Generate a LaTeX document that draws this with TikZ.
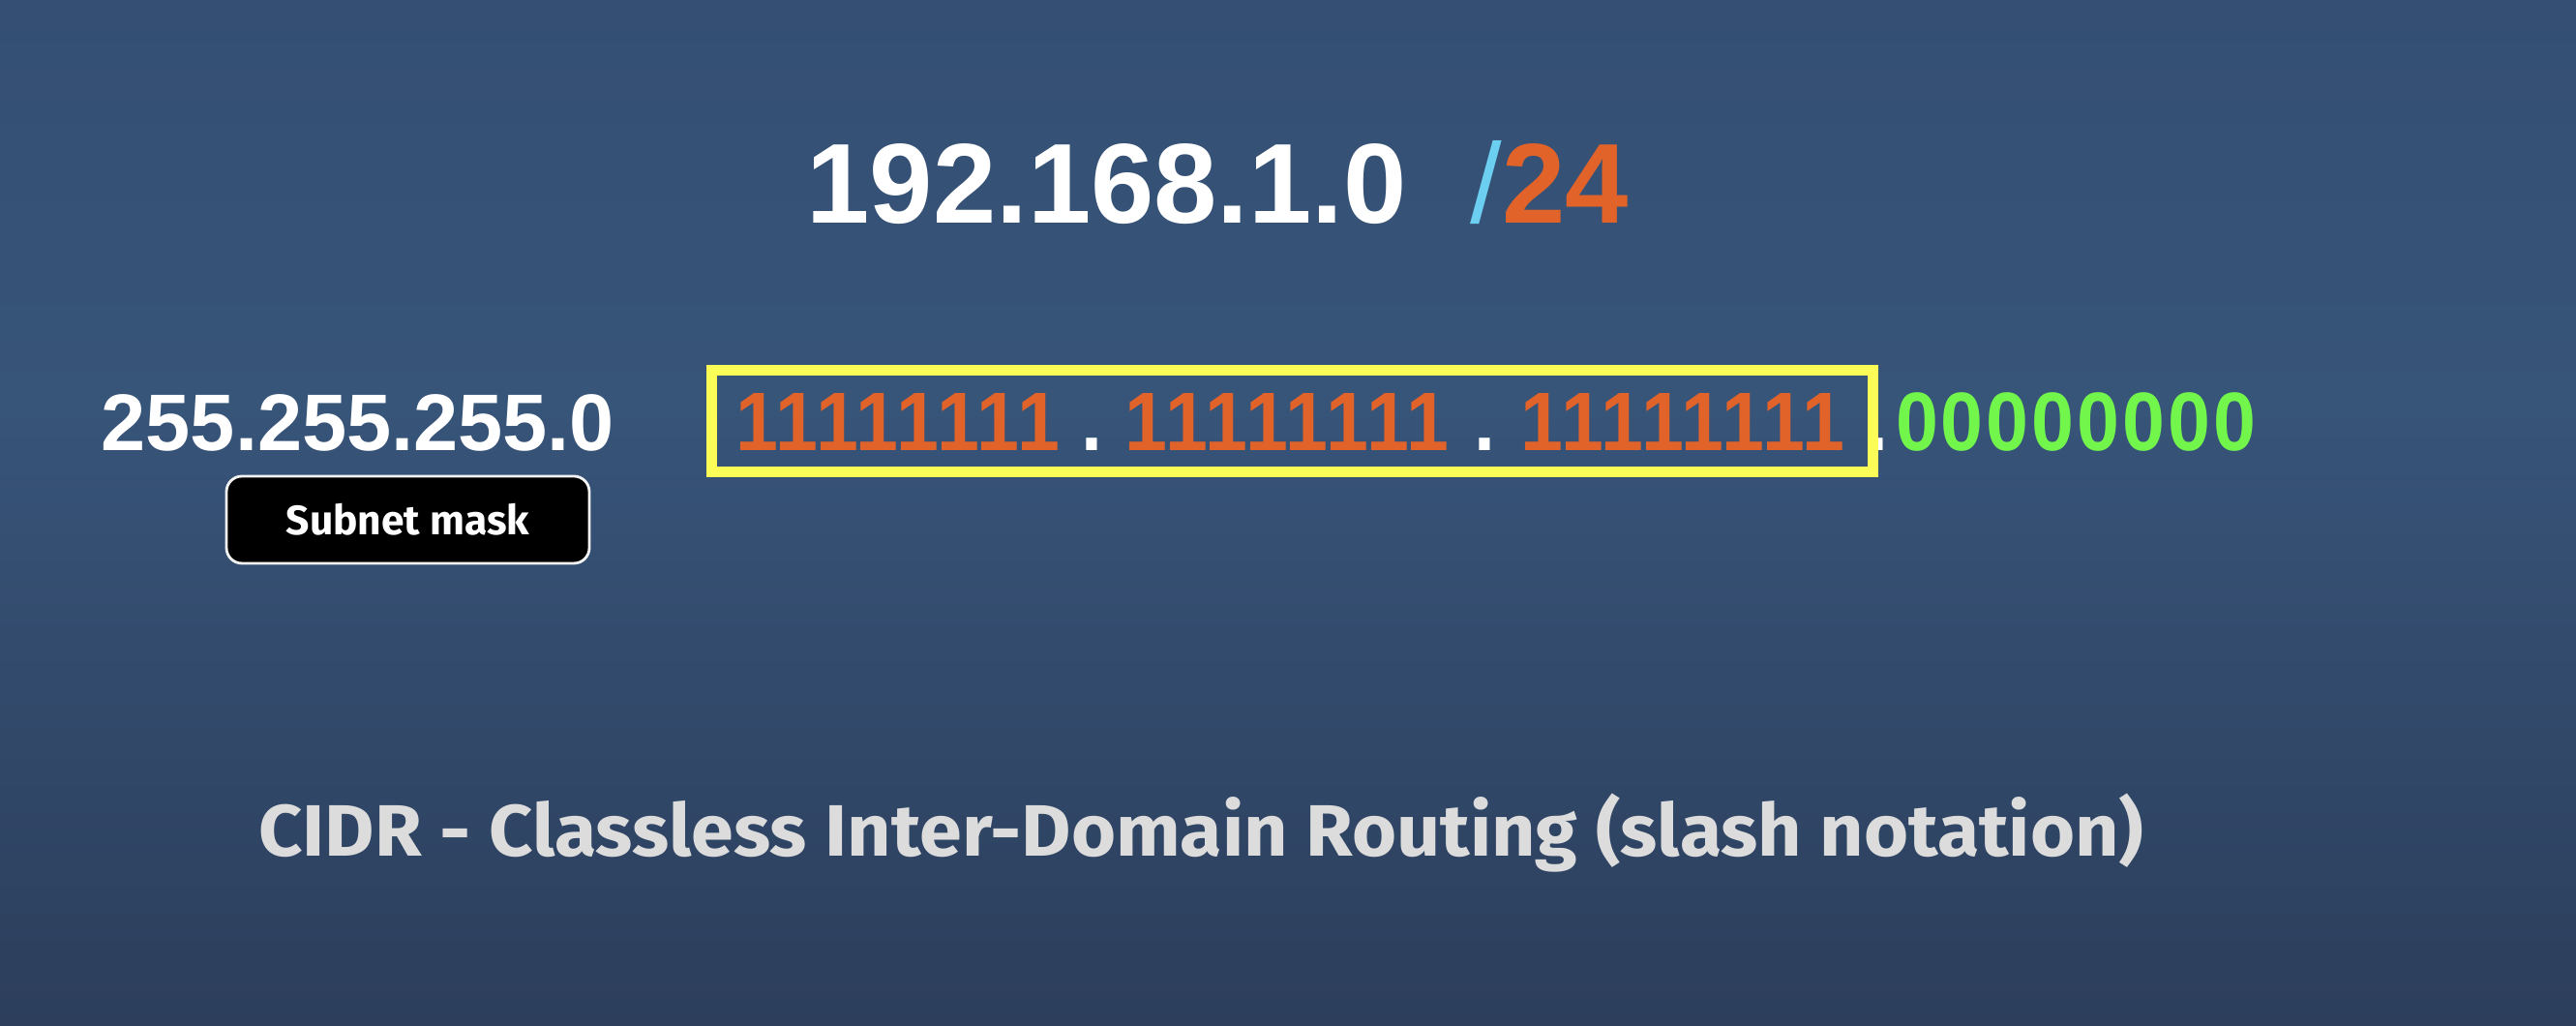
\documentclass[tikz,border=0pt]{standalone}
\usepackage{fontspec}
\setmainfont{Liberation Sans}
\newfontfamily\bitfont[FakeStretch=0.92]{Liberation Sans}
\newfontfamily\labelfont{Fira Sans}
\newfontfamily\titlefont[FakeStretch=1.05]{Fira Sans}
\usetikzlibrary{positioning}

\definecolor{bgtop}{HTML}{344F73}
\definecolor{bgmid}{HTML}{375479}
\definecolor{bgbot}{HTML}{2C3E5B}
\definecolor{maskone}{HTML}{E2632A}
\definecolor{hostzero}{HTML}{72F64B}
\definecolor{slashblue}{HTML}{6CCFF2}
\definecolor{boxyellow}{HTML}{FDFD58}
\definecolor{titlegray}{HTML}{DCDCDC}

\tikzset{
  ipbig/.style={inner sep=0pt, anchor=base west, font=\fontsize{33.4}{40}\selectfont\bfseries},
  maskbig/.style={inner sep=0pt, anchor=base west, text=white, font=\fontsize{23.6}{28}\selectfont\bfseries},
  bitdigit/.style={inner sep=0pt, anchor=base, font=\bitfont\fontsize{24.4}{28}\selectfont\bfseries},
  tagbox/.style={draw=white!90!gray, line width=0.8pt, fill=black, rounded corners=0.16cm,
    minimum width=3.75cm, minimum height=0.9cm, inner sep=0pt, text=white,
    font=\labelfont\fontsize{12.1}{14}\selectfont\bfseries},
  titletext/.style={inner sep=0pt, anchor=base, text=titlegray,
    font=\titlefont\fontsize{21.4}{25}\selectfont\bfseries}
}

\begin{document}
\begin{tikzpicture}
\useasboundingbox (0,0) rectangle (26.62,10.60);
\shade[top color=bgtop, bottom color=bgmid] (0,6.4) rectangle (26.62,10.60);
\shade[top color=bgmid, bottom color=bgbot] (0,0) rectangle (26.62,6.4);

\node[ipbig, text=white] (net) at (8.33,8.29) {192.168.1.0};
\node[ipbig, text=slashblue, font=\fontsize{33.4}{40}\selectfont] (slash) at (15.19,8.29) {/};
\node[ipbig, text=maskone] (prefix) at (15.52,8.29) {24};

\node[maskbig] (dotted) at (1.04,5.94) {255.255.255.0};
\node[tagbox] (tag) at (4.215,5.23) {Subnet mask};

\foreach \g/\x in {1/7.82, 2/11.845, 3/15.935} {
  \foreach \k in {0,...,7} {
    \node[bitdigit, text=maskone] (one-\g-\k) at (\x+0.416*\k,5.94) {1};
  }
}
\foreach \n/\x in {1/11.28, 2/15.34, 3/19.40}
  \node[bitdigit, text=white] (dot-\n) at (\x,5.94) {.};
\node[draw=boxyellow, line width=3.1pt, minimum width=12cm, minimum height=1.05cm, inner sep=0pt] (netbits) at (13.355,6.25) {};
\foreach \k in {0,...,7}
  \node[bitdigit, text=hostzero] (zero-\k) at (19.81+0.469*\k,5.94) {0};

\node[titletext] (title) at (12.415,1.75) {CIDR - Classless Inter-Domain Routing (slash notation)};
\end{tikzpicture}
\end{document}
